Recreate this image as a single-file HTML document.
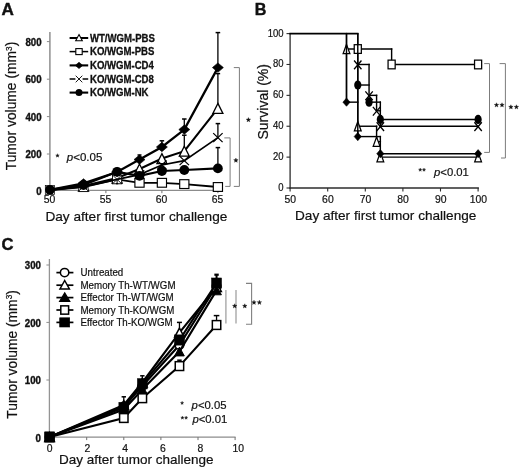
<!DOCTYPE html>
<html>
<head>
<meta charset="utf-8">
<title>Figure</title>
<style>
html,body{margin:0;padding:0;background:#fff;}
body{width:520px;height:470px;overflow:hidden;font-family:'Liberation Sans', sans-serif;}
svg{display:block;}
svg{will-change:transform;filter:grayscale(1);}
svg text{font-family:'Liberation Sans',sans-serif;fill:#111;}
</style>
</head>
<body>
<svg width="520" height="470" viewBox="0 0 520 470">
<rect x="0" y="0" width="520" height="470" fill="#ffffff"/>
<text transform="translate(1.60,15.00) scale(1.09,1)" font-size="15.7" font-weight="bold" font-style="normal" text-anchor="start" stroke="#111" stroke-width="0.4" >A</text>
<line x1="49.90" y1="32.00" x2="49.90" y2="191.00" stroke="#8c8c8c" stroke-width="1.45"/>
<line x1="49.20" y1="190.40" x2="222.00" y2="190.40" stroke="#8c8c8c" stroke-width="1.25"/>
<line x1="46.90" y1="191.00" x2="49.90" y2="191.00" stroke="#8c8c8c" stroke-width="1"/>
<text transform="translate(41.60,195.10) scale(0.97,1)" font-size="10" font-weight="bold" font-style="normal" text-anchor="end" stroke="#111" stroke-width="0.35" >0</text>
<line x1="46.90" y1="154.00" x2="49.90" y2="154.00" stroke="#8c8c8c" stroke-width="1"/>
<text transform="translate(41.60,158.10) scale(0.97,1)" font-size="10" font-weight="bold" font-style="normal" text-anchor="end" stroke="#111" stroke-width="0.35" >200</text>
<line x1="46.90" y1="116.60" x2="49.90" y2="116.60" stroke="#8c8c8c" stroke-width="1"/>
<text transform="translate(41.60,120.70) scale(0.97,1)" font-size="10" font-weight="bold" font-style="normal" text-anchor="end" stroke="#111" stroke-width="0.35" >400</text>
<line x1="46.90" y1="79.20" x2="49.90" y2="79.20" stroke="#8c8c8c" stroke-width="1"/>
<text transform="translate(41.60,83.30) scale(0.97,1)" font-size="10" font-weight="bold" font-style="normal" text-anchor="end" stroke="#111" stroke-width="0.35" >600</text>
<line x1="46.90" y1="41.60" x2="49.90" y2="41.60" stroke="#8c8c8c" stroke-width="1"/>
<text transform="translate(41.60,45.70) scale(0.97,1)" font-size="10" font-weight="bold" font-style="normal" text-anchor="end" stroke="#111" stroke-width="0.35" >800</text>
<line x1="49.90" y1="190.40" x2="49.90" y2="193.20" stroke="#707070" stroke-width="1"/>
<text transform="translate(49.60,203.00) scale(1.0,1)" font-size="10.4" font-weight="normal" font-style="normal" text-anchor="middle" stroke="#111" stroke-width="0.2" >50</text>
<line x1="105.90" y1="190.40" x2="105.90" y2="193.20" stroke="#707070" stroke-width="1"/>
<text transform="translate(105.60,203.00) scale(1.0,1)" font-size="10.4" font-weight="normal" font-style="normal" text-anchor="middle" stroke="#111" stroke-width="0.2" >55</text>
<line x1="161.90" y1="190.40" x2="161.90" y2="193.20" stroke="#707070" stroke-width="1"/>
<text transform="translate(161.60,203.00) scale(1.0,1)" font-size="10.4" font-weight="normal" font-style="normal" text-anchor="middle" stroke="#111" stroke-width="0.2" >60</text>
<line x1="217.90" y1="190.40" x2="217.90" y2="193.20" stroke="#707070" stroke-width="1"/>
<text transform="translate(217.60,203.00) scale(1.0,1)" font-size="10.4" font-weight="normal" font-style="normal" text-anchor="middle" stroke="#111" stroke-width="0.2" >65</text>
<text transform="translate(16.40,170.30) rotate(-90)" font-size="13.84" text-anchor="start" stroke="#111" stroke-width="0.2">Tumor volume (mm<tspan font-size="8.3" dy="-4.2">3</tspan><tspan dy="4.2">)</tspan></text>
<text transform="translate(45.40,220.50) scale(1.0,1)" font-size="13.65" font-weight="normal" font-style="normal" text-anchor="start" stroke="#111" stroke-width="0.2" >Day after first tumor challenge</text>
<line x1="217.90" y1="109.00" x2="217.90" y2="73.60" stroke="#000" stroke-width="1.3"/><line x1="215.65" y1="73.60" x2="220.15" y2="73.60" stroke="#000" stroke-width="1.5"/>
<line x1="184.30" y1="151.00" x2="184.30" y2="135.20" stroke="#000" stroke-width="1.3"/><line x1="182.05" y1="135.20" x2="186.55" y2="135.20" stroke="#000" stroke-width="1.5"/>
<polyline points="49.90,190.00 83.50,186.00 117.10,178.00 139.50,169.00 161.90,158.60 184.30,151.20 217.90,108.40" fill="none" stroke="#000" stroke-width="2.1" stroke-linejoin="miter"/>
<path d="M83.50,181.00 L88.50,191.00 L78.50,191.00 Z" fill="#fff" stroke="#000" stroke-width="1.3" stroke-linejoin="miter"/>
<path d="M117.10,173.00 L122.10,183.00 L112.10,183.00 Z" fill="#fff" stroke="#000" stroke-width="1.3" stroke-linejoin="miter"/>
<path d="M139.50,164.00 L144.50,174.00 L134.50,174.00 Z" fill="#fff" stroke="#000" stroke-width="1.3" stroke-linejoin="miter"/>
<path d="M161.90,153.60 L166.90,163.60 L156.90,163.60 Z" fill="#fff" stroke="#000" stroke-width="1.3" stroke-linejoin="miter"/>
<path d="M184.30,146.20 L189.30,156.20 L179.30,156.20 Z" fill="#fff" stroke="#000" stroke-width="1.3" stroke-linejoin="miter"/>
<path d="M217.90,103.40 L222.90,113.40 L212.90,113.40 Z" fill="#fff" stroke="#000" stroke-width="1.3" stroke-linejoin="miter"/>
<polyline points="49.90,190.00 83.50,187.20 117.10,179.40 139.50,182.80 161.90,182.80 184.30,184.10 217.90,187.00" fill="none" stroke="#000" stroke-width="1.8" stroke-linejoin="miter"/>
<rect x="45.30" y="185.60" width="9.20" height="8.80" fill="#fff" stroke="#000" stroke-width="0.7"/>
<rect x="78.90" y="182.80" width="9.20" height="8.80" fill="#fff" stroke="#000" stroke-width="0.9"/>
<rect x="112.50" y="175.00" width="9.20" height="8.80" fill="#fff" stroke="#000" stroke-width="0.9"/>
<rect x="134.90" y="178.40" width="9.20" height="8.80" fill="#fff" stroke="#000" stroke-width="1.15"/>
<rect x="157.30" y="178.40" width="9.20" height="8.80" fill="#fff" stroke="#000" stroke-width="1.15"/>
<rect x="179.70" y="179.70" width="9.20" height="8.80" fill="#fff" stroke="#000" stroke-width="1.15"/>
<rect x="213.30" y="182.60" width="9.20" height="8.80" fill="#fff" stroke="#000" stroke-width="1.15"/>
<line x1="217.90" y1="67.60" x2="217.90" y2="32.60" stroke="#000" stroke-width="1.3"/><line x1="215.60" y1="32.60" x2="220.20" y2="32.60" stroke="#000" stroke-width="1.5"/>
<line x1="184.30" y1="129.60" x2="184.30" y2="119.00" stroke="#000" stroke-width="1.3"/><line x1="182.05" y1="119.00" x2="186.55" y2="119.00" stroke="#000" stroke-width="1.5"/>
<line x1="161.90" y1="147.00" x2="161.90" y2="140.80" stroke="#000" stroke-width="1.3"/><line x1="159.65" y1="140.80" x2="164.15" y2="140.80" stroke="#000" stroke-width="1.5"/>
<line x1="139.50" y1="159.00" x2="139.50" y2="155.00" stroke="#000" stroke-width="1.3"/><line x1="137.50" y1="155.00" x2="141.50" y2="155.00" stroke="#000" stroke-width="1.5"/>
<polyline points="49.90,190.00 83.50,183.40 117.10,172.00 139.50,159.60 161.90,147.00 184.30,129.60 217.90,67.60" fill="none" stroke="#000" stroke-width="2.3" stroke-linejoin="miter"/>
<path d="M78.00,183.40 L83.50,178.70 L89.00,183.40 L83.50,188.10 Z" fill="#000" stroke="#000" stroke-width="0.6"/>
<path d="M111.60,172.00 L117.10,167.30 L122.60,172.00 L117.10,176.70 Z" fill="#000" stroke="#000" stroke-width="0.6"/>
<path d="M134.00,159.60 L139.50,154.90 L145.00,159.60 L139.50,164.30 Z" fill="#000" stroke="#000" stroke-width="0.6"/>
<path d="M156.40,147.00 L161.90,142.30 L167.40,147.00 L161.90,151.70 Z" fill="#000" stroke="#000" stroke-width="0.6"/>
<path d="M178.80,129.60 L184.30,124.90 L189.80,129.60 L184.30,134.30 Z" fill="#000" stroke="#000" stroke-width="0.6"/>
<path d="M212.40,67.60 L217.90,62.90 L223.40,67.60 L217.90,72.30 Z" fill="#000" stroke="#000" stroke-width="0.6"/>
<line x1="217.90" y1="137.60" x2="217.90" y2="123.60" stroke="#000" stroke-width="1.3"/><line x1="215.65" y1="123.60" x2="220.15" y2="123.60" stroke="#000" stroke-width="1.5"/>
<line x1="117.10" y1="179.40" x2="117.10" y2="183.70" stroke="#000" stroke-width="1.0"/><line x1="116.00" y1="183.70" x2="118.20" y2="183.70" stroke="#000" stroke-width="1.2"/>
<polyline points="49.90,190.00 83.50,186.60 117.10,179.40 139.50,174.60 161.90,165.00 184.30,160.60 217.90,137.60" fill="none" stroke="#000" stroke-width="1.7" stroke-linejoin="miter"/>
<path d="M79.20,182.50 L87.80,190.70 M79.20,190.70 L87.80,182.50" fill="none" stroke="#000" stroke-width="0.9"/>
<path d="M112.80,175.30 L121.40,183.50 M112.80,183.50 L121.40,175.30" fill="none" stroke="#000" stroke-width="0.9"/>
<path d="M134.80,170.10 L144.20,179.10 M134.80,179.10 L144.20,170.10" fill="none" stroke="#000" stroke-width="1.25"/>
<path d="M157.20,160.50 L166.60,169.50 M157.20,169.50 L166.60,160.50" fill="none" stroke="#000" stroke-width="1.25"/>
<path d="M179.60,156.10 L189.00,165.10 M179.60,165.10 L189.00,156.10" fill="none" stroke="#000" stroke-width="1.25"/>
<path d="M213.20,133.10 L222.60,142.10 M213.20,142.10 L222.60,133.10" fill="none" stroke="#000" stroke-width="1.25"/>
<line x1="217.90" y1="168.00" x2="217.90" y2="147.60" stroke="#000" stroke-width="1.3"/><line x1="215.65" y1="147.60" x2="220.15" y2="147.60" stroke="#000" stroke-width="1.5"/>
<polyline points="49.90,189.80 83.50,185.00 117.10,171.80 139.50,175.80 161.90,171.00 184.30,170.00 217.90,168.40" fill="none" stroke="#000" stroke-width="2.2" stroke-linejoin="miter"/>
<ellipse cx="49.90" cy="189.80" rx="4.90" ry="4.90" fill="#000"/>
<ellipse cx="83.50" cy="185.00" rx="4.90" ry="4.90" fill="#000"/>
<ellipse cx="117.10" cy="171.80" rx="4.90" ry="4.90" fill="#000"/>
<ellipse cx="139.50" cy="175.80" rx="4.90" ry="4.90" fill="#000"/>
<ellipse cx="161.90" cy="171.00" rx="4.90" ry="4.90" fill="#000"/>
<ellipse cx="184.30" cy="170.00" rx="4.90" ry="4.90" fill="#000"/>
<ellipse cx="217.90" cy="168.40" rx="4.90" ry="4.90" fill="#000"/>
<line x1="69.60" y1="38.00" x2="88.20" y2="38.00" stroke="#000" stroke-width="2.0"/>
<path d="M79.00,34.60 L82.30,40.80 L75.70,40.80 Z" fill="#fff" stroke="#000" stroke-width="1.1" stroke-linejoin="miter"/>
<text transform="translate(90.00,41.80) scale(0.94,1)" font-size="10.2" font-weight="bold" font-style="normal" text-anchor="start" stroke="#111" stroke-width="0.3" >WT/WGM-PBS</text>
<line x1="69.60" y1="51.60" x2="88.20" y2="51.60" stroke="#000" stroke-width="1.5"/>
<rect x="75.80" y="48.60" width="6.40" height="6.00" fill="#fff" stroke="#000" stroke-width="1.1"/>
<text transform="translate(90.00,55.40) scale(0.94,1)" font-size="10.2" font-weight="bold" font-style="normal" text-anchor="start" stroke="#111" stroke-width="0.3" >KO/WGM-PBS</text>
<line x1="69.60" y1="65.40" x2="88.20" y2="65.40" stroke="#000" stroke-width="2.1"/>
<path d="M75.30,65.40 L79.00,62.20 L82.70,65.40 L79.00,68.60 Z" fill="#000" stroke="#000" stroke-width="0.6"/>
<text transform="translate(90.00,69.20) scale(0.94,1)" font-size="10.2" font-weight="bold" font-style="normal" text-anchor="start" stroke="#111" stroke-width="0.3" >KO/WGM-CD4</text>
<line x1="69.60" y1="79.00" x2="88.20" y2="79.00" stroke="#000" stroke-width="1.5"/>
<rect x="75.4" y="75.50" width="7.2" height="7" fill="#fff"/>
<path d="M75.70,75.70 L82.30,82.30 M75.70,82.30 L82.30,75.70" fill="none" stroke="#000" stroke-width="0.9"/>
<text transform="translate(90.00,82.80) scale(0.94,1)" font-size="10.2" font-weight="bold" font-style="normal" text-anchor="start" stroke="#111" stroke-width="0.3" >KO/WGM-CD8</text>
<line x1="69.60" y1="92.60" x2="88.20" y2="92.60" stroke="#000" stroke-width="2.1"/>
<ellipse cx="79.00" cy="92.60" rx="3.50" ry="3.50" fill="#000"/>
<text transform="translate(90.00,96.40) scale(0.94,1)" font-size="10.2" font-weight="bold" font-style="normal" text-anchor="start" stroke="#111" stroke-width="0.3" >KO/WGM-NK</text>
<polyline points="233.80,67.60 239.40,67.60 239.40,186.40 233.80,186.40" fill="none" stroke="#7c7c7c" stroke-width="1" stroke-linejoin="miter"/>
<polyline points="224.30,137.90 230.10,137.90 230.10,186.40 225.20,186.40" fill="none" stroke="#7c7c7c" stroke-width="1" stroke-linejoin="miter"/>
<text transform="translate(66.80,161.40) scale(1.0,1)" font-size="11.5" font-weight="normal" font-style="normal" text-anchor="start" stroke="#111" stroke-width="0.2" ><tspan font-style="italic">p</tspan>&lt;0.05</text>
<polygon points="248.40,117.55 248.98,119.10 250.63,119.17 249.34,120.20 249.78,121.80 248.40,120.89 247.02,121.80 247.46,120.20 246.17,119.17 247.82,119.10" fill="#111" stroke="#111" stroke-width="0.35" stroke-linejoin="round"/>
<polygon points="235.90,158.05 236.48,159.60 238.13,159.67 236.84,160.70 237.28,162.30 235.90,161.39 234.52,162.30 234.96,160.70 233.67,159.67 235.32,159.60" fill="#111" stroke="#111" stroke-width="0.35" stroke-linejoin="round"/>
<polygon points="57.50,153.70 57.97,154.95 59.31,155.01 58.26,155.85 58.62,157.14 57.50,156.40 56.38,157.14 56.74,155.85 55.69,155.01 57.03,154.95" fill="#111" stroke="#111" stroke-width="0.35" stroke-linejoin="round"/>
<text transform="translate(254.80,14.90) scale(1.03,1)" font-size="15.7" font-weight="bold" font-style="normal" text-anchor="start" stroke="#111" stroke-width="0.4" >B</text>
<line x1="290.10" y1="33.00" x2="290.10" y2="188.65" stroke="#2c2c2c" stroke-width="1.3"/>
<line x1="289.45" y1="188.00" x2="478.90" y2="188.00" stroke="#2c2c2c" stroke-width="1.3"/>
<line x1="286.50" y1="188.00" x2="290.10" y2="188.00" stroke="#2c2c2c" stroke-width="1.1"/>
<text transform="translate(283.50,191.00) scale(0.94,1)" font-size="10.1" font-weight="normal" font-style="normal" text-anchor="end" stroke="#111" stroke-width="0.2" >0</text>
<line x1="286.50" y1="157.12" x2="290.10" y2="157.12" stroke="#2c2c2c" stroke-width="1.1"/>
<text transform="translate(283.50,160.12) scale(0.94,1)" font-size="10.1" font-weight="normal" font-style="normal" text-anchor="end" stroke="#111" stroke-width="0.2" >20</text>
<line x1="286.50" y1="126.24" x2="290.10" y2="126.24" stroke="#2c2c2c" stroke-width="1.1"/>
<text transform="translate(283.50,129.24) scale(0.94,1)" font-size="10.1" font-weight="normal" font-style="normal" text-anchor="end" stroke="#111" stroke-width="0.2" >40</text>
<line x1="286.50" y1="95.36" x2="290.10" y2="95.36" stroke="#2c2c2c" stroke-width="1.1"/>
<text transform="translate(283.50,98.36) scale(0.94,1)" font-size="10.1" font-weight="normal" font-style="normal" text-anchor="end" stroke="#111" stroke-width="0.2" >60</text>
<line x1="286.50" y1="64.48" x2="290.10" y2="64.48" stroke="#2c2c2c" stroke-width="1.1"/>
<text transform="translate(283.50,67.48) scale(0.94,1)" font-size="10.1" font-weight="normal" font-style="normal" text-anchor="end" stroke="#111" stroke-width="0.2" >80</text>
<line x1="286.50" y1="33.60" x2="290.10" y2="33.60" stroke="#2c2c2c" stroke-width="1.1"/>
<text transform="translate(283.50,36.60) scale(0.94,1)" font-size="10.1" font-weight="normal" font-style="normal" text-anchor="end" stroke="#111" stroke-width="0.2" >100</text>
<line x1="290.10" y1="188.00" x2="290.10" y2="191.50" stroke="#2c2c2c" stroke-width="1.1"/>
<text transform="translate(290.30,203.40) scale(1.0,1)" font-size="10.4" font-weight="normal" font-style="normal" text-anchor="middle" stroke="#111" stroke-width="0.2" >50</text>
<line x1="327.70" y1="188.00" x2="327.70" y2="191.50" stroke="#2c2c2c" stroke-width="1.1"/>
<text transform="translate(327.90,203.40) scale(1.0,1)" font-size="10.4" font-weight="normal" font-style="normal" text-anchor="middle" stroke="#111" stroke-width="0.2" >60</text>
<line x1="365.30" y1="188.00" x2="365.30" y2="191.50" stroke="#2c2c2c" stroke-width="1.1"/>
<text transform="translate(365.50,203.40) scale(1.0,1)" font-size="10.4" font-weight="normal" font-style="normal" text-anchor="middle" stroke="#111" stroke-width="0.2" >70</text>
<line x1="402.90" y1="188.00" x2="402.90" y2="191.50" stroke="#2c2c2c" stroke-width="1.1"/>
<text transform="translate(403.10,203.40) scale(1.0,1)" font-size="10.4" font-weight="normal" font-style="normal" text-anchor="middle" stroke="#111" stroke-width="0.2" >80</text>
<line x1="440.50" y1="188.00" x2="440.50" y2="191.50" stroke="#2c2c2c" stroke-width="1.1"/>
<text transform="translate(440.70,203.40) scale(1.0,1)" font-size="10.4" font-weight="normal" font-style="normal" text-anchor="middle" stroke="#111" stroke-width="0.2" >90</text>
<line x1="478.10" y1="188.00" x2="478.10" y2="191.50" stroke="#2c2c2c" stroke-width="1.1"/>
<text transform="translate(478.30,203.40) scale(1.0,1)" font-size="10.4" font-weight="normal" font-style="normal" text-anchor="middle" stroke="#111" stroke-width="0.2" >100</text>
<text transform="translate(268.00,139.50) rotate(-90)" font-size="14.0" text-anchor="start" stroke="#111" stroke-width="0.2">Survival (%)</text>
<text transform="translate(295.00,220.40) scale(1.0,1)" font-size="13.6" font-weight="normal" font-style="normal" text-anchor="start" stroke="#111" stroke-width="0.2" >Day after first tumor challenge</text>
<line x1="289.39" y1="33.60" x2="358.49" y2="33.60" stroke="#000" stroke-width="1.7"/>
<line x1="345.79" y1="49.04" x2="392.33" y2="49.04" stroke="#000" stroke-width="1.42"/>
<line x1="357.07" y1="64.48" x2="369.77" y2="64.48" stroke="#000" stroke-width="1.42"/>
<line x1="390.91" y1="64.48" x2="478.81" y2="64.48" stroke="#000" stroke-width="1.42"/>
<line x1="357.07" y1="85.02" x2="369.77" y2="85.02" stroke="#000" stroke-width="1.42"/>
<line x1="368.35" y1="95.36" x2="377.29" y2="95.36" stroke="#000" stroke-width="1.42"/>
<line x1="345.79" y1="102.15" x2="358.49" y2="102.15" stroke="#000" stroke-width="1.42"/>
<line x1="368.35" y1="102.15" x2="381.05" y2="102.15" stroke="#000" stroke-width="1.42"/>
<line x1="375.87" y1="110.80" x2="381.05" y2="110.80" stroke="#000" stroke-width="1.42"/>
<line x1="379.63" y1="119.45" x2="478.81" y2="119.45" stroke="#000" stroke-width="1.42"/>
<line x1="357.07" y1="126.24" x2="377.29" y2="126.24" stroke="#000" stroke-width="1.42"/>
<line x1="379.63" y1="126.24" x2="478.81" y2="126.24" stroke="#000" stroke-width="1.42"/>
<line x1="357.07" y1="136.58" x2="381.05" y2="136.58" stroke="#000" stroke-width="1.42"/>
<line x1="375.87" y1="141.68" x2="381.05" y2="141.68" stroke="#000" stroke-width="1.42"/>
<line x1="379.63" y1="153.72" x2="478.81" y2="153.72" stroke="#000" stroke-width="1.42"/>
<line x1="379.63" y1="157.12" x2="478.81" y2="157.12" stroke="#000" stroke-width="1.42"/>
<line x1="346.50" y1="32.89" x2="346.50" y2="102.86" stroke="#000" stroke-width="1.42"/>
<line x1="357.78" y1="32.89" x2="357.78" y2="137.29" stroke="#000" stroke-width="1.42"/>
<line x1="391.62" y1="48.33" x2="391.62" y2="65.19" stroke="#000" stroke-width="1.42"/>
<line x1="369.06" y1="63.77" x2="369.06" y2="102.86" stroke="#000" stroke-width="1.42"/>
<line x1="376.58" y1="94.65" x2="376.58" y2="111.51" stroke="#000" stroke-width="1.42"/>
<line x1="376.58" y1="125.53" x2="376.58" y2="142.39" stroke="#000" stroke-width="1.42"/>
<line x1="380.34" y1="101.44" x2="380.34" y2="126.95" stroke="#000" stroke-width="1.42"/>
<line x1="380.34" y1="135.87" x2="380.34" y2="157.83" stroke="#000" stroke-width="1.42"/>
<path d="M346.50,44.34 L349.90,53.74 L343.10,53.74 Z" fill="#fff" stroke="#000" stroke-width="1.25" stroke-linejoin="miter"/>
<path d="M357.78,121.54 L361.18,130.94 L354.38,130.94 Z" fill="#fff" stroke="#000" stroke-width="1.25" stroke-linejoin="miter"/>
<path d="M376.58,136.98 L379.98,146.38 L373.18,146.38 Z" fill="#fff" stroke="#000" stroke-width="1.25" stroke-linejoin="miter"/>
<path d="M380.34,152.42 L383.74,161.82 L376.94,161.82 Z" fill="#fff" stroke="#000" stroke-width="1.25" stroke-linejoin="miter"/>
<path d="M478.10,152.42 L481.50,161.82 L474.70,161.82 Z" fill="#fff" stroke="#000" stroke-width="1.25" stroke-linejoin="miter"/>
<rect x="354.23" y="44.69" width="7.10" height="8.70" fill="#fff" stroke="#000" stroke-width="1.25"/>
<rect x="388.07" y="60.13" width="7.10" height="8.70" fill="#fff" stroke="#000" stroke-width="1.25"/>
<rect x="474.55" y="60.13" width="7.10" height="8.70" fill="#fff" stroke="#000" stroke-width="1.25"/>
<line x1="346.50" y1="33.60" x2="346.50" y2="102.15" stroke="#000" stroke-width="1.42"/>
<line x1="357.78" y1="33.60" x2="357.78" y2="136.58" stroke="#000" stroke-width="1.42"/>
<path d="M342.90,102.15 L346.50,98.05 L350.10,102.15 L346.50,106.25 Z" fill="#000" stroke="#000" stroke-width="0.6"/>
<path d="M354.18,136.58 L357.78,132.48 L361.38,136.58 L357.78,140.68 Z" fill="#000" stroke="#000" stroke-width="0.6"/>
<path d="M376.74,153.72 L380.34,149.62 L383.94,153.72 L380.34,157.82 Z" fill="#000" stroke="#000" stroke-width="0.6"/>
<path d="M474.50,153.72 L478.10,149.62 L481.70,153.72 L478.10,157.82 Z" fill="#000" stroke="#000" stroke-width="0.6"/>
<path d="M354.08,60.48 L361.48,69.28 M354.08,69.28 L361.48,60.48" fill="none" stroke="#000" stroke-width="1.3"/>
<path d="M365.36,91.36 L372.76,100.16 M365.36,100.16 L372.76,91.36" fill="none" stroke="#000" stroke-width="1.3"/>
<path d="M372.88,106.80 L380.28,115.60 M372.88,115.60 L380.28,106.80" fill="none" stroke="#000" stroke-width="1.3"/>
<path d="M376.64,122.24 L384.04,131.04 M376.64,131.04 L384.04,122.24" fill="none" stroke="#000" stroke-width="1.3"/>
<path d="M474.40,122.24 L481.80,131.04 M474.40,131.04 L481.80,122.24" fill="none" stroke="#000" stroke-width="1.3"/>
<ellipse cx="357.78" cy="85.02" rx="3.60" ry="4.60" fill="#000"/>
<ellipse cx="369.06" cy="102.15" rx="3.60" ry="4.60" fill="#000"/>
<ellipse cx="380.34" cy="119.45" rx="3.60" ry="4.60" fill="#000"/>
<ellipse cx="478.10" cy="119.45" rx="3.60" ry="4.60" fill="#000"/>
<polyline points="484.20,63.60 489.50,63.60 489.50,152.40 484.20,152.40" fill="none" stroke="#7c7c7c" stroke-width="1" stroke-linejoin="miter"/>
<polyline points="499.60,63.60 505.40,63.60 505.40,158.00 501.00,158.00" fill="none" stroke="#7c7c7c" stroke-width="1" stroke-linejoin="miter"/>
<text transform="translate(434.00,176.40) scale(1.0,1)" font-size="11.3" font-weight="normal" font-style="normal" text-anchor="start" stroke="#111" stroke-width="0.2" ><tspan font-style="italic">p</tspan>&lt;0.01</text>
<polygon points="496.50,102.75 497.08,104.30 498.73,104.37 497.44,105.40 497.88,107.00 496.50,106.09 495.12,107.00 495.56,105.40 494.27,104.37 495.92,104.30" fill="#111" stroke="#111" stroke-width="0.35" stroke-linejoin="round"/>
<polygon points="502.00,102.75 502.58,104.30 504.23,104.37 502.94,105.40 503.38,107.00 502.00,106.09 500.62,107.00 501.06,105.40 499.77,104.37 501.42,104.30" fill="#111" stroke="#111" stroke-width="0.35" stroke-linejoin="round"/>
<polygon points="510.90,104.75 511.48,106.30 513.13,106.37 511.84,107.40 512.28,109.00 510.90,108.09 509.52,109.00 509.96,107.40 508.67,106.37 510.32,106.30" fill="#111" stroke="#111" stroke-width="0.35" stroke-linejoin="round"/>
<polygon points="516.40,104.75 516.98,106.30 518.63,106.37 517.34,107.40 517.78,109.00 516.40,108.09 515.02,109.00 515.46,107.40 514.17,106.37 515.82,106.30" fill="#111" stroke="#111" stroke-width="0.35" stroke-linejoin="round"/>
<polygon points="420.20,168.05 420.63,169.21 421.86,169.26 420.90,170.03 421.23,171.22 420.20,170.54 419.17,171.22 419.50,170.03 418.54,169.26 419.77,169.21" fill="#111" stroke="#111" stroke-width="0.35" stroke-linejoin="round"/>
<polygon points="424.00,168.05 424.43,169.21 425.66,169.26 424.70,170.03 425.03,171.22 424.00,170.54 422.97,171.22 423.30,170.03 422.34,169.26 423.57,169.21" fill="#111" stroke="#111" stroke-width="0.35" stroke-linejoin="round"/>
<text transform="translate(1.50,250.30) scale(1.06,1)" font-size="15.7" font-weight="bold" font-style="normal" text-anchor="start" stroke="#111" stroke-width="0.4" >C</text>
<line x1="49.40" y1="259.00" x2="49.40" y2="437.70" stroke="#949494" stroke-width="1.3"/>
<line x1="48.70" y1="437.10" x2="235.60" y2="437.10" stroke="#8c8c8c" stroke-width="1.25"/>
<line x1="46.40" y1="437.40" x2="49.40" y2="437.40" stroke="#8c8c8c" stroke-width="1"/>
<text transform="translate(41.00,441.80) scale(0.97,1)" font-size="10" font-weight="bold" font-style="normal" text-anchor="end" stroke="#111" stroke-width="0.35" >0</text>
<line x1="46.40" y1="380.00" x2="49.40" y2="380.00" stroke="#8c8c8c" stroke-width="1"/>
<text transform="translate(41.00,384.40) scale(0.97,1)" font-size="10" font-weight="bold" font-style="normal" text-anchor="end" stroke="#111" stroke-width="0.35" >100</text>
<line x1="46.40" y1="322.40" x2="49.40" y2="322.40" stroke="#8c8c8c" stroke-width="1"/>
<text transform="translate(41.00,326.80) scale(0.97,1)" font-size="10" font-weight="bold" font-style="normal" text-anchor="end" stroke="#111" stroke-width="0.35" >200</text>
<line x1="46.40" y1="265.00" x2="49.40" y2="265.00" stroke="#8c8c8c" stroke-width="1"/>
<text transform="translate(41.00,269.40) scale(0.97,1)" font-size="10" font-weight="bold" font-style="normal" text-anchor="end" stroke="#111" stroke-width="0.35" >300</text>
<line x1="49.60" y1="437.10" x2="49.60" y2="440.10" stroke="#707070" stroke-width="1"/>
<text transform="translate(49.70,452.10) scale(1.0,1)" font-size="10.4" font-weight="normal" font-style="normal" text-anchor="middle" stroke="#111" stroke-width="0.2" >0</text>
<line x1="86.70" y1="437.10" x2="86.70" y2="440.10" stroke="#707070" stroke-width="1"/>
<text transform="translate(87.40,452.10) scale(1.0,1)" font-size="10.4" font-weight="normal" font-style="normal" text-anchor="middle" stroke="#111" stroke-width="0.2" >2</text>
<line x1="123.80" y1="437.10" x2="123.80" y2="440.10" stroke="#707070" stroke-width="1"/>
<text transform="translate(125.10,452.10) scale(1.0,1)" font-size="10.4" font-weight="normal" font-style="normal" text-anchor="middle" stroke="#111" stroke-width="0.2" >4</text>
<line x1="160.90" y1="437.10" x2="160.90" y2="440.10" stroke="#707070" stroke-width="1"/>
<text transform="translate(162.80,452.10) scale(1.0,1)" font-size="10.4" font-weight="normal" font-style="normal" text-anchor="middle" stroke="#111" stroke-width="0.2" >6</text>
<line x1="198.00" y1="437.10" x2="198.00" y2="440.10" stroke="#707070" stroke-width="1"/>
<text transform="translate(200.50,452.10) scale(1.0,1)" font-size="10.4" font-weight="normal" font-style="normal" text-anchor="middle" stroke="#111" stroke-width="0.2" >8</text>
<line x1="235.10" y1="437.10" x2="235.10" y2="440.10" stroke="#707070" stroke-width="1"/>
<text transform="translate(238.20,452.10) scale(1.0,1)" font-size="10.4" font-weight="normal" font-style="normal" text-anchor="middle" stroke="#111" stroke-width="0.2" >10</text>
<text transform="translate(16.60,418.70) rotate(-90)" font-size="13.84" text-anchor="start" stroke="#111" stroke-width="0.2">Tumor volume (mm<tspan font-size="8.3" dy="-4.2">3</tspan><tspan dy="4.2">)</tspan></text>
<text transform="translate(59.00,464.20) scale(1.0,1)" font-size="13.5" font-weight="normal" font-style="normal" text-anchor="start" stroke="#111" stroke-width="0.2" >Day after tumor challenge</text>
<polyline points="49.60,437.00 123.80,406.50 142.35,386.00 179.45,345.00 216.55,286.00" fill="none" stroke="#000" stroke-width="2.1" stroke-linejoin="miter"/>
<ellipse cx="49.60" cy="437.00" rx="4.30" ry="4.30" fill="#fff" stroke="#000" stroke-width="1.5"/>
<ellipse cx="123.80" cy="406.50" rx="4.30" ry="4.30" fill="#fff" stroke="#000" stroke-width="1.5"/>
<ellipse cx="142.35" cy="386.00" rx="4.30" ry="4.30" fill="#fff" stroke="#000" stroke-width="1.5"/>
<ellipse cx="179.45" cy="345.00" rx="4.30" ry="4.30" fill="#fff" stroke="#000" stroke-width="1.5"/>
<ellipse cx="216.55" cy="286.00" rx="4.30" ry="4.30" fill="#fff" stroke="#000" stroke-width="1.5"/>
<line x1="179.45" y1="333.00" x2="179.45" y2="322.40" stroke="#000" stroke-width="1.3"/><line x1="176.95" y1="322.40" x2="181.95" y2="322.40" stroke="#000" stroke-width="1.5"/>
<polyline points="49.60,437.00 123.80,405.00 142.35,382.50 179.45,332.60 216.55,287.00" fill="none" stroke="#000" stroke-width="2.1" stroke-linejoin="miter"/>
<path d="M49.60,432.50 L54.40,441.50 L44.80,441.50 Z" fill="#fff" stroke="#000" stroke-width="1.5" stroke-linejoin="miter"/>
<path d="M123.80,400.50 L128.60,409.50 L119.00,409.50 Z" fill="#fff" stroke="#000" stroke-width="1.5" stroke-linejoin="miter"/>
<path d="M142.35,378.00 L147.15,387.00 L137.55,387.00 Z" fill="#fff" stroke="#000" stroke-width="1.5" stroke-linejoin="miter"/>
<path d="M179.45,328.10 L184.25,337.10 L174.65,337.10 Z" fill="#fff" stroke="#000" stroke-width="1.5" stroke-linejoin="miter"/>
<path d="M216.55,282.50 L221.35,291.50 L211.75,291.50 Z" fill="#fff" stroke="#000" stroke-width="1.5" stroke-linejoin="miter"/>
<polyline points="49.60,437.00 123.80,409.50 142.35,389.50 179.45,351.50 216.55,290.40" fill="none" stroke="#000" stroke-width="2.1" stroke-linejoin="miter"/>
<path d="M49.60,432.60 L54.45,441.40 L44.75,441.40 Z" fill="#000" stroke="#000" stroke-width="1.0" stroke-linejoin="miter"/>
<path d="M123.80,405.10 L128.65,413.90 L118.95,413.90 Z" fill="#000" stroke="#000" stroke-width="1.0" stroke-linejoin="miter"/>
<path d="M142.35,385.10 L147.20,393.90 L137.50,393.90 Z" fill="#000" stroke="#000" stroke-width="1.0" stroke-linejoin="miter"/>
<path d="M179.45,347.10 L184.30,355.90 L174.60,355.90 Z" fill="#000" stroke="#000" stroke-width="1.0" stroke-linejoin="miter"/>
<path d="M216.55,286.00 L221.40,294.80 L211.70,294.80 Z" fill="#000" stroke="#000" stroke-width="1.0" stroke-linejoin="miter"/>
<line x1="216.55" y1="325.00" x2="216.55" y2="315.60" stroke="#000" stroke-width="1.3"/><line x1="213.75" y1="315.60" x2="219.35" y2="315.60" stroke="#000" stroke-width="1.5"/>
<line x1="179.45" y1="366.00" x2="179.45" y2="360.20" stroke="#000" stroke-width="1.3"/><line x1="177.20" y1="360.20" x2="181.70" y2="360.20" stroke="#000" stroke-width="1.5"/>
<polyline points="49.60,437.00 123.80,418.00 142.35,398.20 179.45,366.10 216.55,325.00" fill="none" stroke="#000" stroke-width="2.1" stroke-linejoin="miter"/>
<rect x="45.40" y="432.60" width="8.40" height="8.80" fill="#fff" stroke="#000" stroke-width="1.5"/>
<rect x="119.60" y="413.60" width="8.40" height="8.80" fill="#fff" stroke="#000" stroke-width="1.5"/>
<rect x="138.15" y="393.80" width="8.40" height="8.80" fill="#fff" stroke="#000" stroke-width="1.5"/>
<rect x="175.25" y="361.70" width="8.40" height="8.80" fill="#fff" stroke="#000" stroke-width="1.5"/>
<rect x="212.35" y="320.60" width="8.40" height="8.80" fill="#fff" stroke="#000" stroke-width="1.5"/>
<line x1="216.55" y1="283.00" x2="216.55" y2="274.70" stroke="#000" stroke-width="2.0"/><line x1="214.35" y1="274.70" x2="218.75" y2="274.70" stroke="#000" stroke-width="2.2"/>
<line x1="123.80" y1="407.00" x2="123.80" y2="396.80" stroke="#000" stroke-width="1.3"/><line x1="121.60" y1="396.80" x2="126.00" y2="396.80" stroke="#000" stroke-width="1.5"/>
<line x1="142.35" y1="384.00" x2="142.35" y2="375.80" stroke="#000" stroke-width="1.3"/><line x1="140.15" y1="375.80" x2="144.55" y2="375.80" stroke="#000" stroke-width="1.5"/>
<polyline points="49.60,437.00 123.80,407.50 142.35,383.80 179.45,340.00 216.55,283.10" fill="none" stroke="#000" stroke-width="2.1" stroke-linejoin="miter"/>
<rect x="44.70" y="431.90" width="9.80" height="10.20" fill="#000" stroke="#000" stroke-width="0.6"/>
<rect x="118.90" y="402.40" width="9.80" height="10.20" fill="#000" stroke="#000" stroke-width="0.6"/>
<rect x="137.45" y="378.70" width="9.80" height="10.20" fill="#000" stroke="#000" stroke-width="0.6"/>
<rect x="174.55" y="334.90" width="9.80" height="10.20" fill="#000" stroke="#000" stroke-width="0.6"/>
<rect x="211.65" y="278.00" width="9.80" height="10.20" fill="#000" stroke="#000" stroke-width="0.6"/>
<line x1="56.40" y1="272.60" x2="73.40" y2="272.60" stroke="#000" stroke-width="1.7"/>
<ellipse cx="64.60" cy="272.60" rx="4.20" ry="4.20" fill="#fff" stroke="#000" stroke-width="1.5"/>
<text transform="translate(80.50,276.20) scale(0.975,1)" font-size="10" font-weight="normal" font-style="normal" text-anchor="start" stroke="#111" stroke-width="0.2" >Untreated</text>
<line x1="56.40" y1="285.20" x2="73.40" y2="285.20" stroke="#000" stroke-width="1.7"/>
<path d="M64.70,280.50 L69.40,288.90 L60.00,288.90 Z" fill="#fff" stroke="#000" stroke-width="1.5" stroke-linejoin="miter"/>
<text transform="translate(80.50,288.80) scale(0.975,1)" font-size="10" font-weight="normal" font-style="normal" text-anchor="start" stroke="#111" stroke-width="0.2" >Memory Th-WT/WGM</text>
<line x1="56.40" y1="297.60" x2="73.40" y2="297.60" stroke="#000" stroke-width="1.7"/>
<path d="M64.70,292.90 L69.80,301.50 L59.60,301.50 Z" fill="#000" stroke="#000" stroke-width="1.2" stroke-linejoin="miter"/>
<text transform="translate(80.50,301.20) scale(0.975,1)" font-size="10" font-weight="normal" font-style="normal" text-anchor="start" stroke="#111" stroke-width="0.2" >Effector Th-WT/WGM</text>
<line x1="56.40" y1="310.00" x2="73.40" y2="310.00" stroke="#000" stroke-width="1.7"/>
<rect x="60.80" y="305.85" width="7.80" height="8.30" fill="#fff" stroke="#000" stroke-width="1.5"/>
<text transform="translate(80.50,313.60) scale(0.975,1)" font-size="10" font-weight="normal" font-style="normal" text-anchor="start" stroke="#111" stroke-width="0.2" >Memory Th-KO/WGM</text>
<line x1="56.40" y1="322.40" x2="73.40" y2="322.40" stroke="#000" stroke-width="1.7"/>
<rect x="59.70" y="317.80" width="10.00" height="9.20" fill="#000" stroke="#000" stroke-width="0.6"/>
<text transform="translate(80.50,326.00) scale(0.975,1)" font-size="10" font-weight="normal" font-style="normal" text-anchor="start" stroke="#111" stroke-width="0.2" >Effector Th-KO/WGM</text>
<line x1="225.90" y1="290.00" x2="225.90" y2="323.60" stroke="#a8a8a8" stroke-width="1.4"/>
<line x1="236.00" y1="290.00" x2="236.00" y2="323.60" stroke="#a8a8a8" stroke-width="1.4"/>
<polyline points="246.00,283.40 251.60,283.40 251.60,324.20 246.00,324.20" fill="none" stroke="#808080" stroke-width="1.1" stroke-linejoin="miter"/>
<text transform="translate(191.60,409.00) scale(1.0,1)" font-size="11.3" font-weight="normal" font-style="normal" text-anchor="start" stroke="#111" stroke-width="0.2" ><tspan font-style="italic">p</tspan>&lt;0.05</text>
<text transform="translate(192.40,423.00) scale(1.0,1)" font-size="11.3" font-weight="normal" font-style="normal" text-anchor="start" stroke="#111" stroke-width="0.2" ><tspan font-style="italic">p</tspan>&lt;0.01</text>
<polygon points="234.70,303.75 235.28,305.30 236.93,305.37 235.64,306.40 236.08,308.00 234.70,307.09 233.32,308.00 233.76,306.40 232.47,305.37 234.12,305.30" fill="#111" stroke="#111" stroke-width="0.35" stroke-linejoin="round"/>
<polygon points="244.80,303.75 245.38,305.30 247.03,305.37 245.74,306.40 246.18,308.00 244.80,307.09 243.42,308.00 243.86,306.40 242.57,305.37 244.22,305.30" fill="#111" stroke="#111" stroke-width="0.35" stroke-linejoin="round"/>
<polygon points="254.00,300.15 254.58,301.70 256.23,301.77 254.94,302.80 255.38,304.40 254.00,303.49 252.62,304.40 253.06,302.80 251.77,301.77 253.42,301.70" fill="#111" stroke="#111" stroke-width="0.35" stroke-linejoin="round"/>
<polygon points="259.40,300.15 259.98,301.70 261.63,301.77 260.34,302.80 260.78,304.40 259.40,303.49 258.02,304.40 258.46,302.80 257.17,301.77 258.82,301.70" fill="#111" stroke="#111" stroke-width="0.35" stroke-linejoin="round"/>
<polygon points="182.10,401.30 182.52,402.42 183.72,402.47 182.78,403.22 183.10,404.38 182.10,403.71 181.10,404.38 181.42,403.22 180.48,402.47 181.68,402.42" fill="#111" stroke="#111" stroke-width="0.35" stroke-linejoin="round"/>
<polygon points="182.40,416.10 182.82,417.22 184.02,417.27 183.08,418.02 183.40,419.18 182.40,418.51 181.40,419.18 181.72,418.02 180.78,417.27 181.98,417.22" fill="#111" stroke="#111" stroke-width="0.35" stroke-linejoin="round"/>
<polygon points="186.10,416.10 186.52,417.22 187.72,417.27 186.78,418.02 187.10,419.18 186.10,418.51 185.10,419.18 185.42,418.02 184.48,417.27 185.68,417.22" fill="#111" stroke="#111" stroke-width="0.35" stroke-linejoin="round"/>
</svg>
</body>
</html>
